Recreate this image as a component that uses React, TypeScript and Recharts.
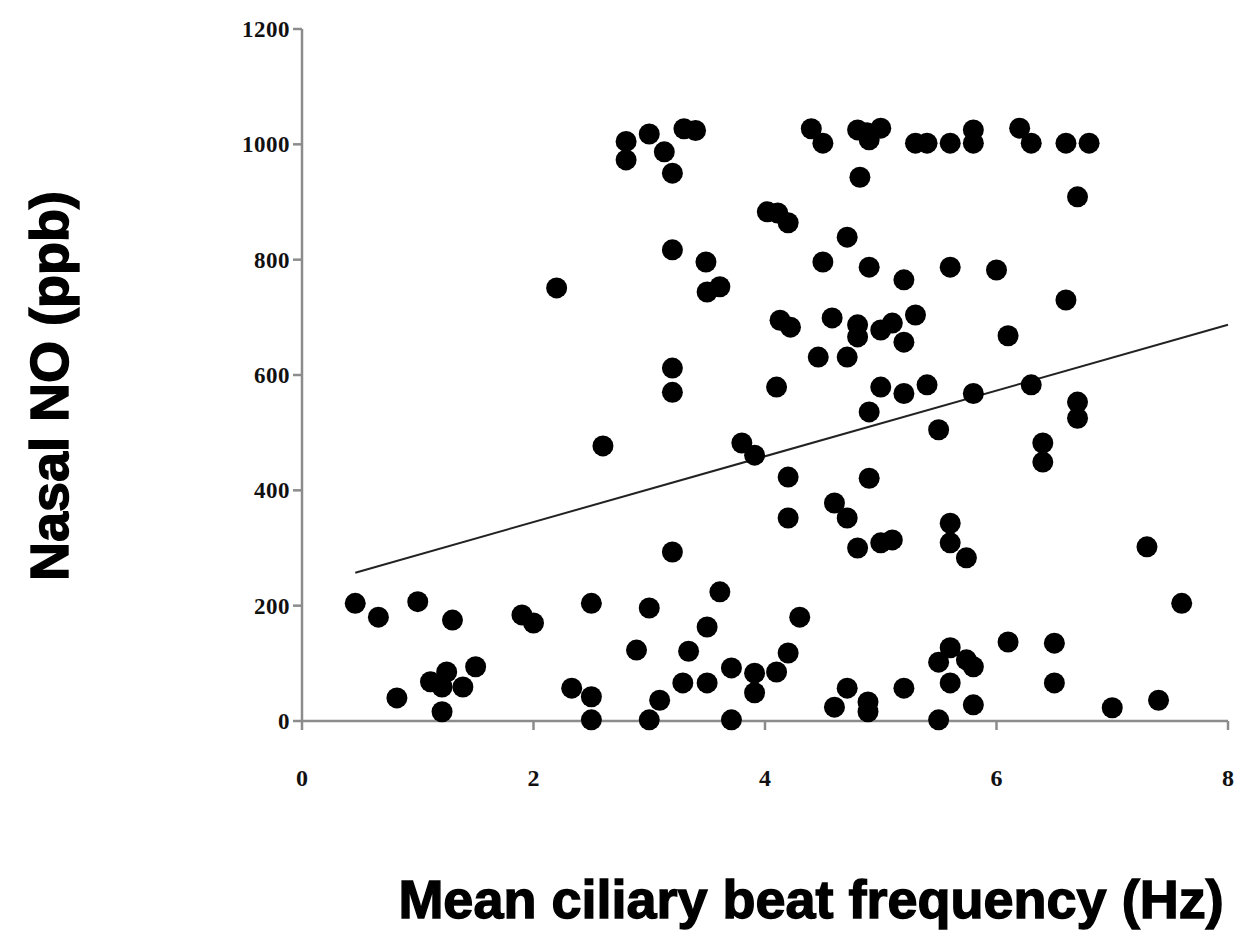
import { ScatterChart, Scatter, XAxis, YAxis, ReferenceLine, Label } from "recharts"

// mean ciliary beat frequency (Hz)
const cbfHz = [
  2.8, 2.8, 3.0, 3.13, 3.2, 3.3, 3.4, 4.4, 4.5, 4.8, 4.88, 4.9, 5.0, 5.3, 5.4, 5.6, 5.8, 5.8, 6.2, 6.3, 6.6, 6.8,
  4.82, 6.7, 4.02, 4.11, 4.2, 3.2, 3.49, 3.5, 3.61, 2.2,
  4.71, 4.5, 4.9, 5.2, 5.6, 6.0, 6.6,
  4.13, 4.22, 4.58, 4.8, 4.8, 5.0, 5.1, 5.2, 5.3, 6.1,
  3.2, 3.2, 4.1, 4.46, 4.71, 5.0, 5.2, 4.9, 5.4, 5.8, 6.3, 6.7, 6.7, 5.5, 6.4, 6.4,
  2.6, 3.8, 3.91, 4.2, 4.9, 4.2, 4.6, 4.71, 4.8, 5.0, 5.1, 3.2, 5.6, 5.6, 5.74, 7.3,
  0.46, 0.66, 1.0, 1.3, 1.9, 2.0, 2.5, 0.82, 1.11, 1.21, 1.25, 1.39, 1.5, 1.21, 2.33, 2.5, 2.5,
  3.0, 3.61, 3.5, 2.89, 3.34, 4.3, 4.2, 3.71, 3.91, 3.91, 4.1, 3.29, 3.5, 3.09, 3.0, 3.71, 4.71, 4.6, 4.89, 4.89, 5.2,
  7.6, 6.1, 6.5, 6.5, 5.5, 5.6, 5.74, 5.8, 5.6, 5.8, 5.5, 7.0, 7.4,
]

// nasal NO (ppb), same order
const nasalNo = [
  1005, 973, 1018, 987, 950, 1027, 1024, 1027, 1002, 1025, 1020, 1008, 1028, 1002, 1002, 1002, 1025, 1002, 1028, 1002, 1002, 1002,
  943, 909, 883, 881, 864, 817, 796, 744, 753, 751,
  839, 796, 787, 765, 787, 782, 730,
  695, 683, 699, 687, 666, 678, 690, 657, 704, 668,
  612, 570, 579, 631, 631, 579, 568, 536, 583, 568, 583, 553, 525, 505, 482, 449,
  477, 482, 461, 423, 421, 352, 378, 352, 300, 309, 314, 293, 343, 309, 283, 302,
  204, 180, 207, 175, 184, 170, 204, 40, 68, 59, 85, 59, 94, 16, 57, 42, 2,
  196, 224, 163, 123, 121, 180, 118, 92, 83, 49, 85, 66, 66, 36, 2, 2, 57, 24, 33, 16, 57,
  204, 137, 135, 66, 102, 127, 106, 94, 66, 28, 2, 23, 36,
]

const xTicks = [0, 2, 4, 6, 8]
const yTicks = [0, 200, 400, 600, 800, 1000, 1200]

// linear trend line
const trendSlope = 57
const trendIntercept = 231
const trendEndX = 8

const points = cbfHz.map((x, i) => ({ x, y: nasalNo[i] }))
const trendStartX = Math.min(...cbfHz)

const serif = "'Liberation Serif', 'Times New Roman', serif"

const xTickStyle = { fill: "#111", fontFamily: serif, fontWeight: "bold", fontSize: 24 }
const yTickStyle = { fill: "#111", fontFamily: serif, fontWeight: "bold", fontSize: 23, letterSpacing: 0.5 }

const labelStyle = {
  fontFamily: "'Liberation Sans', Arial, sans-serif",
  fontWeight: "bold",
  fontSize: 54,
  fill: "#000",
  stroke: "#000",
  strokeWidth: 1.4,
}

const Dot = (props: any) => <circle cx={props.cx} cy={props.cy} r={10.5} fill="#000" />

export default function App() {
  return (
    <div style={{ position: "absolute", left: 0, top: 0, width: 1239, height: 931, background: "#fff" }}>
      <ScatterChart width={1239} height={931} margin={{ top: 29, right: 11, bottom: 0, left: 0 }}>
        <XAxis
          type="number"
          dataKey="x"
          domain={[0, 8]}
          ticks={xTicks}
          tickSize={9}
          tickMargin={39}
          height={210}
          stroke="#8c8c8c"
          strokeWidth={2.5}
          tick={xTickStyle}
        >
          <Label
            content={() => (
              <text x={811} y={918} textAnchor="middle" style={labelStyle}>
                Mean ciliary beat frequency (Hz)
              </text>
            )}
          />
        </XAxis>
        <YAxis
          type="number"
          dataKey="y"
          domain={[0, 1200]}
          ticks={yTicks}
          tickSize={9}
          tickMargin={3}
          width={302}
          stroke="#8c8c8c"
          strokeWidth={2.5}
          tick={yTickStyle}
        >
          <Label
            content={() => (
              <text x={68} y={386} textAnchor="middle" transform="rotate(-90, 68, 386)" style={labelStyle}>
                Nasal NO (ppb)
              </text>
            )}
          />
        </YAxis>
        <ReferenceLine
          segment={[
            { x: trendStartX, y: trendSlope * trendStartX + trendIntercept },
            { x: trendEndX, y: trendSlope * trendEndX + trendIntercept },
          ]}
          stroke="#222"
          strokeWidth={2}
          ifOverflow="visible"
        />
        <Scatter data={points} shape={Dot} isAnimationActive={false} />
      </ScatterChart>
    </div>
  )
}
